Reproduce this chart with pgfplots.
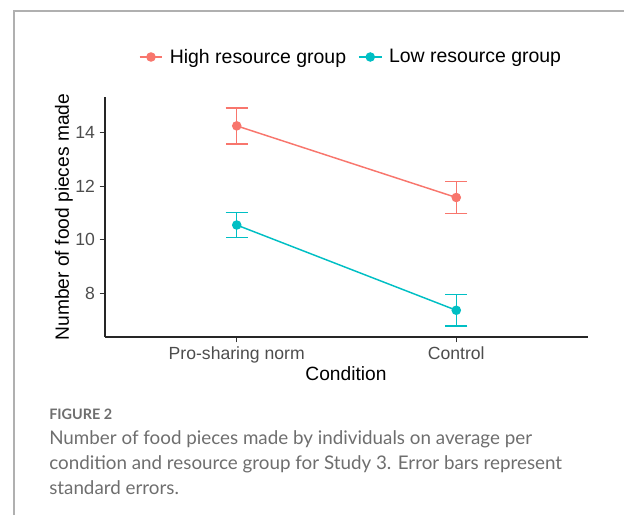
\documentclass[border=0pt]{standalone}
\usepackage{fontspec}
\setmainfont{Liberation Sans}
\newfontfamily\capfont{Lato}
\usepackage{pgfplots}
\pgfplotsset{compat=1.18}
\definecolor{hicol}{HTML}{F8766D}
\definecolor{locol}{HTML}{00BFC4}
\definecolor{tickgray}{HTML}{4D4D4D}
\definecolor{capgray}{HTML}{6E6E6E}
\definecolor{framegray}{HTML}{B0B0B0}
\begin{document}
\begin{tikzpicture}
\path[use as bounding box] (0,0) rectangle (468pt,386.25pt);
\draw[framegray, line width=0.9pt] (10.5pt,0) -- (10.5pt,378pt) -- (468pt,378pt);
\begin{axis}[
  at={(78.75pt,133.5pt)}, anchor=south west,
  scale only axis, width=362.25pt, height=180pt,
  xmin=-0.6, xmax=1.6, ymin=6.36, ymax=15.34,
  axis lines*=left,
  axis line style={line width=0.9pt, color=black!85},
  xtick={0,1}, xticklabels={Pro-sharing norm, Control},
  ytick={8,10,12,14},
  tick align=outside, major tick length=4pt,
  tick style={line width=0.8pt, color=black!80},
  ticklabel style={font=\fontsize{13.2pt}{15pt}\selectfont, color=tickgray},
  /pgf/number format/assume math mode=true,
  xlabel={Condition}, ylabel={Number of food pieces made},
  label style={font=\fontsize{14.4pt}{17pt}\selectfont},
  xlabel style={at={(axis description cs:0.499,-0.154)}, anchor=center},
  ylabel style={at={(axis description cs:-0.085,0.5)}, anchor=center, rotate=0},
  legend columns=2,
  legend style={at={(0.510,1.1667)}, anchor=center, draw=none, fill=none,
    font=\fontsize{14.6pt}{17pt}\selectfont,
    /tikz/every odd column/.append style={column sep=3pt},
    /tikz/every even column/.append style={column sep=7pt}},
  legend image code/.code={\draw[mark repeat=2,mark phase=2,#1] plot coordinates {(0cm,0cm) (0.3cm,0cm) (0.6cm,0cm)};},
  every axis plot/.append style={line width=1.1pt, mark=*, mark size=3pt,
    error bars/y dir=both, error bars/y explicit,
    error bars/error mark options={rotate=90, mark size=8.25pt, line width=1.1pt}},
]
\addplot[color=hicol, mark options={fill=hicol}, error bars/error bar style={line width=1.1pt, color=hicol}]
  coordinates {(0,14.26) +- (0,0.67) (1,11.58) +- (0,0.595)};
\addlegendentry{High resource group}
\addplot[color=locol, mark options={fill=locol}, error bars/error bar style={line width=1.1pt, color=locol}]
  coordinates {(0,10.55) +- (0,0.46) (1,7.36) +- (0,0.595)};
\addlegendentry{Low resource group}
\end{axis}
\node[anchor=base west, inner sep=0, color=capgray, font=\capfont\bfseries\fontsize{10.8pt}{12pt}\selectfont] at (36.75pt,72pt) {FIGURE 2};
\node[anchor=base west, inner sep=0, color=capgray, font=\capfont\fontsize{14.1pt}{16pt}\selectfont] at (36.75pt,53.25pt) {Number of food pieces made by individuals on average per};
\node[anchor=base west, inner sep=0, color=capgray, font=\capfont\fontsize{14.1pt}{16pt}\selectfont] at (36.75pt,34.5pt) {condition and resource group for Study 3. Error bars represent};
\node[anchor=base west, inner sep=0, color=capgray, font=\capfont\fontsize{14.1pt}{16pt}\selectfont] at (36.75pt,15.75pt) {standard errors.};
\end{tikzpicture}
\end{document}
